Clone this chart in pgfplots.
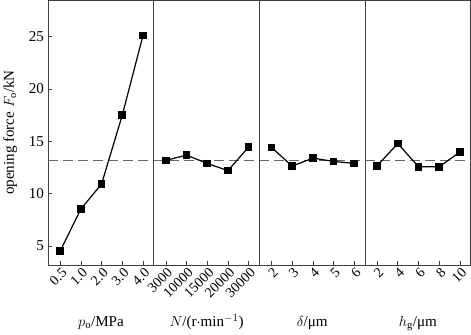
\documentclass[border=0pt]{standalone}
\usepackage{fontspec}
\setmainfont{Liberation Serif}
\usepackage{pgfplots}
\pgfplotsset{compat=1.18}
\usepgfplotslibrary{groupplots}
\begin{document}
\begin{tikzpicture}
\pgfplotsset{
  panel/.style={
    width=105pt, height=263pt, scale only axis,
    xmin=-0.58, xmax=4.52, ymin=3.2, ymax=28.45,
    xtick={0,1,2,3,4},
    tick align=inside, xtick pos=bottom, ytick pos=left,
    major tick length=4pt,
    axis line style={black!75, line width=0.6pt},
    tick style={black!75, line width=0.6pt},
    x tick label style={rotate=45, anchor=north east, font=\fontsize{14}{16}\selectfont, inner sep=1pt, yshift=-1pt},
    y tick label style={font=\fontsize{15}{17}\selectfont, inner sep=2pt, xshift=-2pt},
    label style={font=\fontsize{15}{17}\selectfont},
    ylabel style={yshift=6pt},
    xlabel style={at={(axis description cs:0.5,0)}, anchor=base, yshift=-61pt},
    /pgf/number format/assume math mode=true,
  },
  series/.style={black, line width=1.2pt, mark=square*, mark size=3.2pt, mark options={solid}},
  meanline/.style={black!60, dash pattern=on 10pt off 5pt, line width=0.8pt, forget plot},
}
\begin{groupplot}[group style={group size=4 by 1, horizontal sep=0pt}, panel]
\nextgroupplot[ytick={5,10,15,20,25}, ylabel={opening force $F_{\mathrm{o}}$/kN},
  xticklabels={0.5,1.0,2.0,3.0,4.0}, xlabel={$p_{\mathrm{o}}$/MPa}]
\addplot[meanline] coordinates {(-0.6,13.2) (4.6,13.2)};
\addplot[series] coordinates {(0,4.52) (1,8.53) (2,10.93) (3,17.5) (4,25.1)};
\nextgroupplot[ytick=\empty,
  xticklabels={3000,10000,15000,20000,30000}, xlabel={$N$/(r$\cdot$min$^{-1}$)}]
\addplot[meanline] coordinates {(-0.6,13.2) (4.6,13.2)};
\addplot[series] coordinates {(0,13.17) (1,13.68) (2,12.88) (3,12.2) (4,14.45)};
\nextgroupplot[ytick=\empty,
  xticklabels={2,3,4,5,6}, xlabel={$\delta$/μm}]
\addplot[meanline] coordinates {(-0.6,13.2) (4.6,13.2)};
\addplot[series] coordinates {(0,14.42) (1,12.63) (2,13.39) (3,13.08) (4,12.88)};
\nextgroupplot[ytick=\empty,
  xticklabels={2,4,6,8,10}, xlabel={$h_{\mathrm{g}}$/μm}]
\addplot[meanline] coordinates {(-0.6,13.2) (4.6,13.2)};
\addplot[series] coordinates {(0,12.66) (1,14.78) (2,12.57) (3,12.57) (4,13.97)};
\end{groupplot}
\end{tikzpicture}
\end{document}
